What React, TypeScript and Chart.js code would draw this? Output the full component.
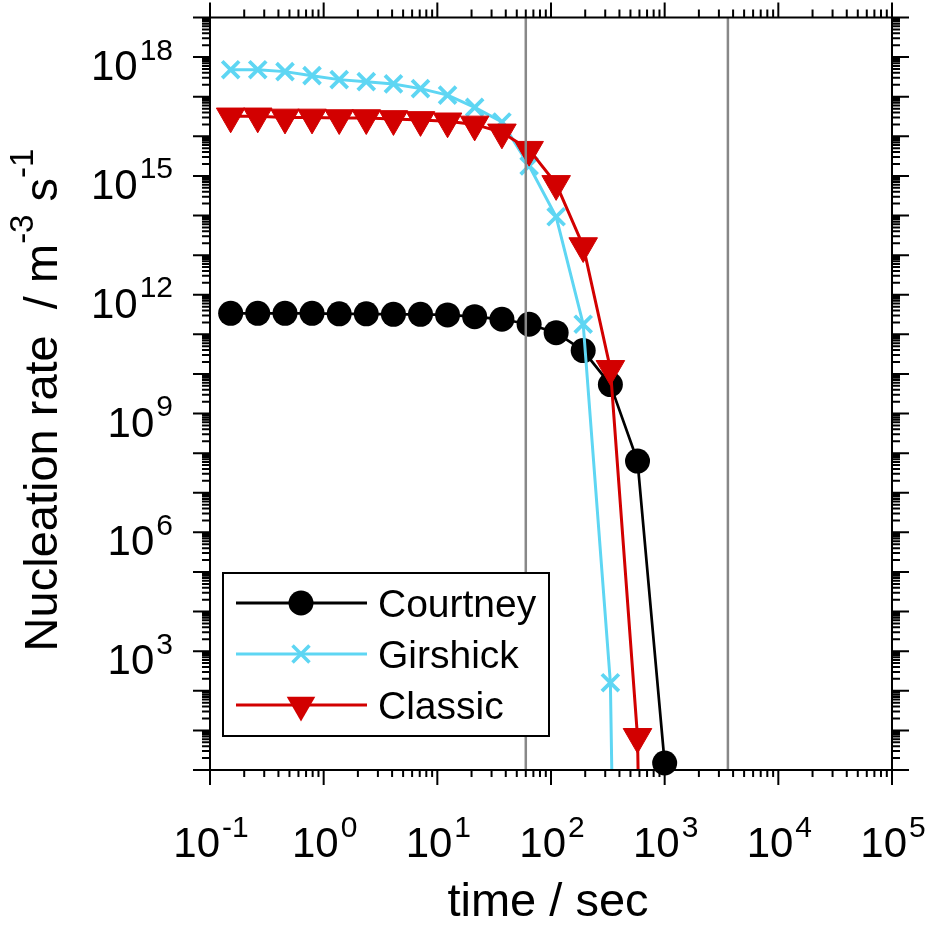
import React, { useEffect, useRef } from 'react';
import { Chart, registerables } from 'chart.js';

Chart.register(...registerables);

// ---- data ----
const times = [0.152, 0.263, 0.457, 0.79, 1.37, 2.37, 4.11, 7.11, 12.3, 21.3, 37.0, 64.2, 111, 192, 333, 577, 1000];
const courtneyRate = [3.4e11, 3.4e11, 3.4e11, 3.4e11, 3.3e11, 3.3e11, 3.2e11, 3.2e11, 3.1e11, 2.8e11, 2.4e11, 1.8e11, 1.1e11, 3.9e10, 5.4e9, 6.3e7, 1.5];
const girshickRate = [4.8e17, 4.8e17, 4.3e17, 3.4e17, 2.7e17, 2.4e17, 2.1e17, 1.6e17, 1.1e17, 5.4e16, 2.3e16, 1.8e15, 9.3e13, 1.8e11, 160, 1e-40];
const classicRate = [3.2e16, 3.2e16, 3.0e16, 3.0e16, 2.9e16, 2.9e16, 2.75e16, 2.6e16, 2.4e16, 2.0e16, 1.26e16, 4.6e15, 6.3e14, 1.7e13, 1.35e10, 6.9, 1e-40];
const markerTimes = [60, 3600];
const seriesNames = ['Courtney', 'Girshick', 'Classic'];
const seriesColors = ['#000000', '#5ed6f3', '#d20000'];

const xTickExponents = [-1, 0, 1, 2, 3, 4, 5];
const yTickExponents = [0, 1, 2, 3, 4, 5, 6, 7, 8, 9, 10, 11, 12, 13, 14, 15, 16, 17, 18, 19];
const yLabelExponents = [3, 6, 9, 12, 15, 18];
const minorMultipliers = [2, 3, 4, 5, 6, 7, 8, 9];

const xTitle = 'time / sec';
const yTitleParts = [
  { t: 'Nucleation rate  / m', sup: false },
  { t: '-3', sup: true },
  { t: ' s', sup: false },
  { t: '-1', sup: true },
];

const FONT = '"Liberation Sans", Arial, Helvetica, sans-serif';

function pts(vals: number[]) {
  return vals.map((v, i) => ({ x: times[i], y: v }));
}

const axesPlugin = {
  id: 'gnuplotAxes',
  afterDatasetsDraw(chart: any) {
    const { ctx, chartArea: a } = chart;
    const xs = chart.scales.x;
    const ys = chart.scales.y;
    ctx.save();
    ctx.strokeStyle = '#000';
    ctx.lineWidth = 2;
    ctx.lineCap = 'butt';
    ctx.beginPath();
    const seg = (x1: number, y1: number, x2: number, y2: number) => {
      ctx.moveTo(x1, y1);
      ctx.lineTo(x2, y2);
    };
    // x ticks (bottom + top)
    xTickExponents.forEach((e, i) => {
      const base = Math.pow(10, e);
      const p = xs.getPixelForValue(base);
      seg(p, a.bottom, p, a.bottom + 15);
      seg(p, a.top, p, a.top - 15);
      if (i < xTickExponents.length - 1) {
        minorMultipliers.forEach((m) => {
          const q = xs.getPixelForValue(m * base);
          seg(q, a.bottom, q, a.bottom + 7);
          seg(q, a.top, q, a.top - 8);
        });
      }
    });
    // y ticks (left + right)
    yTickExponents.forEach((e, i) => {
      const base = Math.pow(10, e);
      const p = ys.getPixelForValue(base);
      seg(a.left, p, a.left - 17, p);
      seg(a.right, p, a.right + 17, p);
      if (i < yTickExponents.length - 1) {
        minorMultipliers.forEach((m) => {
          const q = ys.getPixelForValue(m * base);
          seg(a.left, q, a.left - 8, q);
          seg(a.right, q, a.right + 8, q);
        });
      }
    });
    ctx.stroke();
    ctx.strokeRect(a.left, a.top, a.right - a.left, a.bottom - a.top);

    // tick labels
    const mainFont = `42px ${FONT}`;
    const supFont = `30px ${FONT}`;
    ctx.fillStyle = '#000';
    ctx.textBaseline = 'alphabetic';
    ctx.textAlign = 'left';
    const powWidth = (exp: number) => {
      ctx.font = mainFont;
      const w1 = ctx.measureText('10').width;
      ctx.font = supFont;
      const w2 = ctx.measureText(String(exp)).width;
      return [w1, w2];
    };
    const drawPow = (exp: number, x0: number, base: number) => {
      const [w1] = powWidth(exp);
      ctx.font = mainFont;
      ctx.fillText('10', x0, base);
      ctx.font = supFont;
      ctx.fillText(String(exp), x0 + w1 + 2, base - 20.5);
    };
    xTickExponents.forEach((e) => {
      const p = xs.getPixelForValue(Math.pow(10, e));
      const [w1, w2] = powWidth(e);
      const total = w1 + 2 + w2;
      drawPow(e, p - total / 2 + 1, a.bottom + 87);
    });
    yLabelExponents.forEach((e) => {
      const p = ys.getPixelForValue(Math.pow(10, e));
      const [w1, w2] = powWidth(e);
      const total = w1 + 2 + w2;
      drawPow(e, 173 - total, p + 23);
    });

    // x title
    ctx.font = `47px ${FONT}`;
    ctx.textAlign = 'center';
    ctx.fillText(xTitle, (a.left + a.right) / 2 - 3, 916);

    // y title (rotated)
    ctx.save();
    ctx.translate(57, 400);
    ctx.rotate(-Math.PI / 2);
    ctx.textAlign = 'left';
    const tMain = `47px ${FONT}`;
    const tSup = `33px ${FONT}`;
    let total = 0;
    yTitleParts.forEach((pp) => {
      ctx.font = pp.sup ? tSup : tMain;
      total += ctx.measureText(pp.t).width;
    });
    let cx = -total / 2;
    yTitleParts.forEach((pp) => {
      ctx.font = pp.sup ? tSup : tMain;
      ctx.fillText(pp.t, cx, pp.sup ? -24 : 0);
      cx += ctx.measureText(pp.t).width;
    });
    ctx.restore();

    // legend
    const box = { x: 223, y: 573, w: 326, h: 163 };
    ctx.fillStyle = '#fff';
    ctx.fillRect(box.x, box.y, box.w, box.h);
    ctx.lineWidth = 2;
    ctx.strokeStyle = '#000';
    ctx.strokeRect(box.x, box.y, box.w, box.h);
    const rows = [603, 654, 705];
    rows.forEach((ry, i) => {
      const col = seriesColors[i];
      ctx.strokeStyle = col;
      ctx.fillStyle = col;
      ctx.lineWidth = 2.8;
      ctx.beginPath();
      ctx.moveTo(236, ry);
      ctx.lineTo(367, ry);
      ctx.stroke();
      const mx = 301;
      if (i === 0) {
        ctx.beginPath();
        ctx.arc(mx, ry, 12.5, 0, Math.PI * 2);
        ctx.fill();
      } else if (i === 1) {
        ctx.lineWidth = 3.5;
        const d = 12 * Math.SQRT1_2;
        ctx.beginPath();
        ctx.moveTo(mx - d, ry - d);
        ctx.lineTo(mx + d, ry + d);
        ctx.moveTo(mx - d, ry + d);
        ctx.lineTo(mx + d, ry - d);
        ctx.stroke();
      } else {
        const r = 16.5;
        ctx.beginPath();
        ctx.moveTo(mx, ry + r);
        ctx.lineTo(mx - r * Math.sin(Math.PI / 3), ry - r / 2);
        ctx.lineTo(mx + r * Math.sin(Math.PI / 3), ry - r / 2);
        ctx.closePath();
        ctx.fill();
      }
      ctx.fillStyle = '#000';
      ctx.font = `39px ${FONT}`;
      ctx.textAlign = 'left';
      ctx.fillText(seriesNames[i], 378, ry + 14);
    });
    ctx.restore();
  },
};

export default function App() {
  const ref = useRef<HTMLCanvasElement | null>(null);
  useEffect(() => {
    if (!ref.current) return;
    document.body.style.margin = '0';
    const vlines = markerTimes.map((t) => ({
      label: 'marker',
      data: [
        { x: t, y: 1 },
        { x: t, y: 1e19 },
      ],
      showLine: true,
      borderColor: '#888888',
      borderWidth: 2.5,
      pointRadius: 0,
      order: 0,
    }));
    const chart = new Chart(ref.current, {
      type: 'scatter',
      data: {
        datasets: [
          {
            label: seriesNames[0],
            data: pts(courtneyRate),
            showLine: true,
            borderColor: seriesColors[0],
            backgroundColor: seriesColors[0],
            borderWidth: 2.7,
            pointStyle: 'circle',
            pointRadius: 12.5,
            pointBorderWidth: 0,
            pointBackgroundColor: seriesColors[0],
            clip: 20,
            order: 3,
          } as any,
          {
            label: seriesNames[1],
            data: pts(girshickRate),
            showLine: true,
            borderColor: seriesColors[1],
            backgroundColor: seriesColors[1],
            borderWidth: 3,
            pointStyle: 'crossRot',
            pointRadius: 12,
            pointBorderWidth: 3.8,
            pointBorderColor: seriesColors[1],
            order: 2,
          },
          {
            label: seriesNames[2],
            data: pts(classicRate),
            showLine: true,
            borderColor: seriesColors[2],
            backgroundColor: seriesColors[2],
            borderWidth: 3,
            pointStyle: 'triangle',
            pointRotation: 180,
            pointRadius: 16.5,
            pointBorderWidth: 1,
            pointBorderColor: seriesColors[2],
            pointBackgroundColor: seriesColors[2],
            order: 1,
          },
          ...vlines,
        ],
      },
      options: {
        animation: false,
        responsive: false,
        maintainAspectRatio: false,
        events: [],
        layout: { padding: { left: 210, top: 15, right: 33, bottom: 159 } },
        scales: {
          x: { type: 'logarithmic', min: 0.1, max: 1e5, display: false },
          y: { type: 'logarithmic', min: 1, max: 1e19, display: false },
        },
        plugins: { legend: { display: false }, tooltip: { enabled: false }, title: { display: false } },
      },
      plugins: [axesPlugin],
    } as any);
    return () => chart.destroy();
  }, []);
  return (
    <div style={{ position: 'absolute', left: 0, top: 0, width: 925, height: 929, background: '#fff' }}>
      <canvas ref={ref} width={925} height={929} style={{ width: 925, height: 929, display: 'block' }} />
    </div>
  );
}
